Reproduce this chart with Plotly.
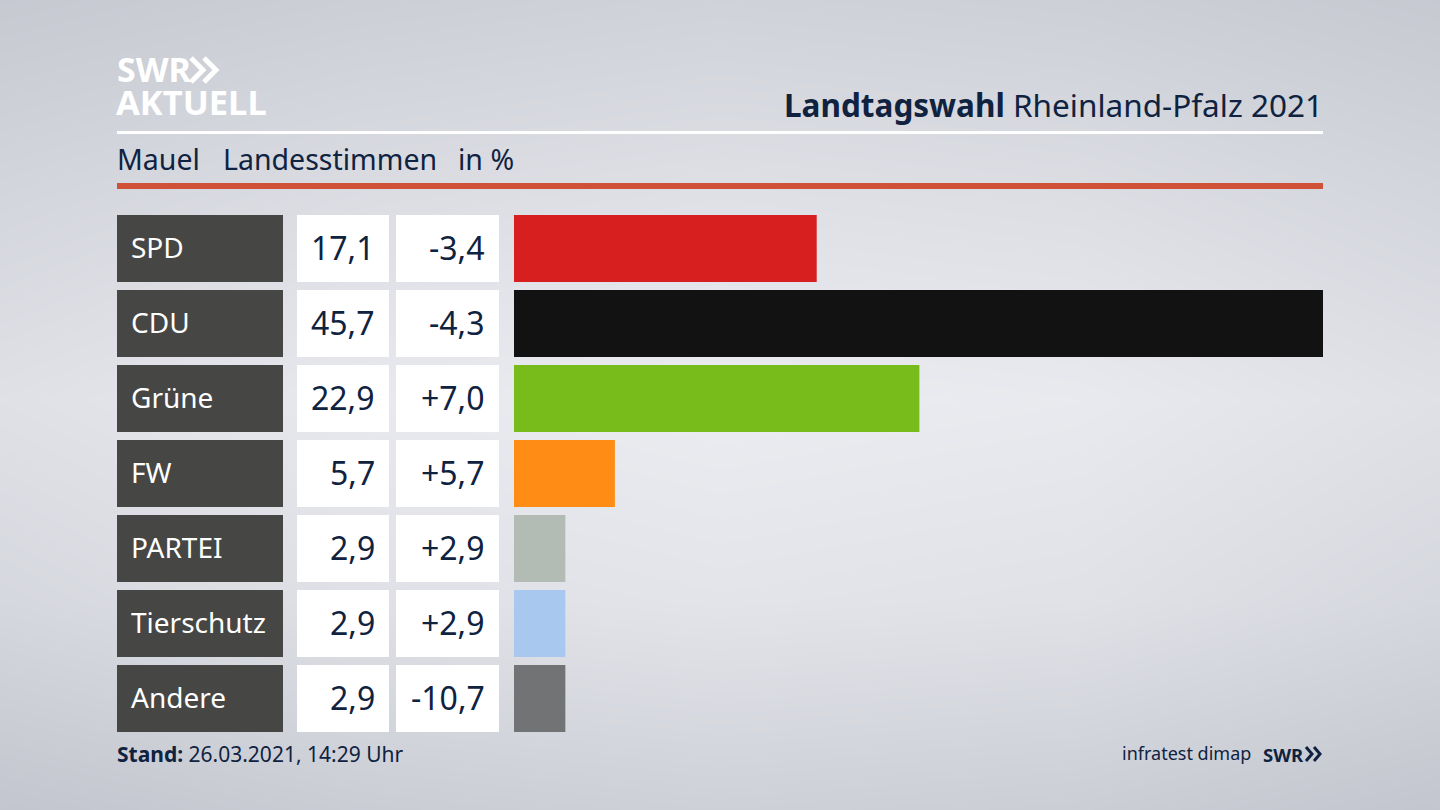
"""Single election-result page: seven party rows, each with a name cell, two
number cells and a bar.

Everything that isn't a bar is placed on a full-page pixel axis (x/y), so
the positions below read the same as the 1440x810 picture they came from.
The bars get their own axes (x2/y2), scaled so 45,7 fills the right column.
"""
import plotly.graph_objects as go

# Static page, nothing to zoom -- the modebar would only sit on the backdrop.
CHART_CONFIG = {"displayModeBar": False}

PARTIES = ["SPD", "CDU", "Grüne", "FW", "PARTEI", "Tierschutz", "Andere"]
SHARES = [17.1, 45.7, 22.9, 5.7, 2.9, 2.9, 2.9]
CHANGES = [-3.4, -4.3, 7.0, 5.7, 2.9, 2.9, -10.7]
BAR_COLORS = ["#d71f1f", "#121212", "#78bc1b", "#ff8c14", "#b2bcb4", "#a9c8f0", "#717375"]

FONT = "Noto Sans"
INK = "#0f2240"
ROW_TOP = 211  # top of the first row slot, 8px gap included
ROW_STEP = 75

# Backdrop brightness, coarse grid -- light band through the middle, darker
# towards the top and bottom edges and a little into the corners.
BG_X = [0, 360, 720, 1080, 1440]
BG_Y = [0, 200, 400, 600, 810]
BG_Z = [
    [198, 204, 208, 205, 198],
    [212, 220, 224, 221, 212],
    [224, 233, 237, 234, 224],
    [214, 224, 228, 225, 214],
    [194, 202, 206, 203, 194],
]


def _to_decimal_comma(value, signed=False):
    """German number format -- 17.1 becomes 17,1, and +7,0 keeps its sign."""
    text = f"{value:+.1f}" if signed else f"{value:.1f}"
    return text.replace(".", ",")


def _label(fig, x, y, text, size, color=INK, anchor="left"):
    """Text pinned to page pixels -- y is the vertical middle of the line."""
    fig.add_annotation(
        x=x, y=y, xref="x", yref="y", text=text, showarrow=False, xanchor=anchor, yanchor="middle",
        font=dict(family=FONT, size=size, color=color), borderpad=0, borderwidth=0,
    )


def _box(fig, x0, y0, x1, y1, color):
    fig.add_shape(type="rect", xref="x", yref="y", x0=x0, y0=y0, x1=x1, y1=y1, fillcolor=color, line_width=0)


def _chevrons(fig, x, top, bottom, width, step, stroke, color):
    """The two arrowheads of the SWR logo, as open paths."""
    middle = (top + bottom) / 2
    for left in (x, x + step):
        fig.add_shape(
            type="path", xref="x", yref="y", line=dict(color=color, width=stroke),
            path=f"M {left},{top} L {left + width},{middle} L {left},{bottom}",
        )


fig = go.Figure()

fig.add_trace(go.Heatmap(
    x=BG_X, y=BG_Y, z=BG_Z, zsmooth="best", showscale=False, hoverinfo="skip",
    zmin=190, zmax=240, colorscale=[[0, "#bfc2cb"], [1, "#eeeff3"]],
))
fig.add_trace(go.Bar(
    x=SHARES, y=PARTIES, orientation="h", marker=dict(color=BAR_COLORS, line_width=0),
    xaxis="x2", yaxis="y2", showlegend=False,
))

for i, party in enumerate(PARTIES):
    top = ROW_TOP + i * ROW_STEP + 4
    bottom = top + 67
    middle = (top + bottom) / 2
    _box(fig, 117, top, 283, bottom, "#464644")
    _box(fig, 297, top, 389, bottom, "#ffffff")
    _box(fig, 396, top, 499, bottom, "#ffffff")
    _label(fig, 131, middle - 1.5, party, 28, color="#ffffff")
    _label(fig, 375, middle - 1, _to_decimal_comma(SHARES[i]), 32, anchor="right")
    _label(fig, 485, middle - 1, _to_decimal_comma(CHANGES[i], signed=True), 32, anchor="right")

# header
_label(fig, 117, 69, "<b>SWR</b>", 34, color="#ffffff")
_chevrons(fig, 191, 58, 82, 12, 13, 5, "#ffffff")
_label(fig, 116, 101, "<b>AKTUELL</b>", 34.5, color="#ffffff")
_label(fig, 1323, 104, "<b>Landtagswahl</b> Rheinland-Pfalz 2021", 31.5, anchor="right")
_box(fig, 117, 131, 1323, 134, "#ffffff")
_label(fig, 117, 159, "Mauel", 28.5)
_label(fig, 223, 159, "Landesstimmen", 28.5)
_label(fig, 458, 159, "in %", 28.5)
_box(fig, 117, 183, 1323, 189, "#cf5238")

# footer
_label(fig, 117, 754, "<b>Stand:</b> 26.03.2021, 14:29 Uhr", 21)
_label(fig, 1251, 753, "infratest dimap", 18, anchor="right")
_label(fig, 1304, 754, "<b>SWR</b>", 18.5, anchor="right")
_chevrons(fig, 1306, 747, 761, 6, 8, 3, INK)

fig.update_layout(
    width=1440, height=810, margin=dict(l=0, r=0, t=0, b=0), showlegend=False,
    paper_bgcolor="#d8dae0", plot_bgcolor="rgba(0,0,0,0)", bargap=8 / ROW_STEP,
    xaxis=dict(domain=[0, 1], range=[0, 1440], visible=False, fixedrange=True),
    yaxis=dict(domain=[0, 1], range=[810, 0], visible=False, fixedrange=True),
    xaxis2=dict(domain=[514 / 1440, 1323 / 1440], range=[0, 45.7], visible=False, anchor="y2"),
    # 7 slots of ROW_STEP px, measured from the top of the page
    yaxis2=dict(
        domain=[1 - (ROW_TOP + 7 * ROW_STEP) / 810, 1 - ROW_TOP / 810],
        autorange="reversed", type="category", visible=False, anchor="x2",
    ),
)

# the browser's own 8px body margin would push the 1440x810 page off the window
fig.write_html("out.html", config=CHART_CONFIG, post_script="document.body.style.margin = '0';")
